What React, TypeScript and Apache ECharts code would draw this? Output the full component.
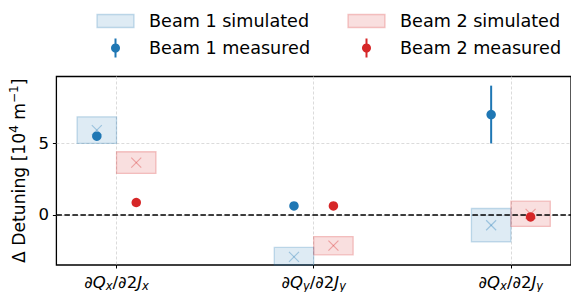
import React, { useEffect, useRef } from "react";
import * as echarts from "echarts";

// ---- data ----
const categories = ["dQx/d2Jx", "dQy/d2Jy", "dQx/d2Jy"];
const categoryLabels = [
  "{d|∂}{i|Q}{sub|x}{d|/∂2}{i|J}{sub|x}",
  "{d|∂}{i|Q}{sub|y}{d|/∂2}{i|J}{sub|y}",
  "{d|∂}{i|Q}{sub|x}{d|/∂2}{i|J}{sub|y}",
];
const beam1Simulated = [5.93, -2.93, -0.72];
const beam1SimulatedErr = [0.93, 0.66, 1.17];
const beam2Simulated = [3.66, -2.15, 0.08];
const beam2SimulatedErr = [0.76, 0.64, 0.88];
const beam1Measured = [5.51, 0.63, 7.02];
const beam1MeasuredErr = [0.15, 0.15, 2.02];
const beam2Measured = [0.87, 0.63, -0.14];
const beam2MeasuredErr = [0.15, 0.15, 0.15];
const legendNames = ["Beam 1 simulated", "Beam 2 simulated", "Beam 1 measured", "Beam 2 measured"];
const xTicks = [0, 1, 2];
const yTicks = [0, 5];

const BLUE = "#1f77b4";
const RED = "#d62728";
const BLUE_FILL = "rgba(31,119,180,0.15)";
const BLUE_EDGE = "rgba(31,119,180,0.25)";
const BLUE_X = "rgba(31,119,180,0.35)";
const RED_FILL = "rgba(214,39,40,0.15)";
const RED_EDGE = "rgba(214,39,40,0.25)";
const RED_X = "rgba(214,39,40,0.35)";
const FONT = "DejaVu Sans";
const FS = 16.5;
const FS_LEGEND = 17.6;
const FS_NAME = 17.2;

function boxRenderer(side: number, fill: string, stroke: string, cross: string) {
  return (params: any, api: any) => {
    const x = api.value(0);
    const v = api.value(1);
    const e = api.value(2);
    const x0 = side < 0 ? x - 0.2 : x;
    const x1 = x0 + 0.2;
    const tl = api.coord([x0, v + e]);
    const br = api.coord([x1, v - e]);
    const cs = params.coordSys;
    const rect = echarts.graphic.clipRectByRect(
      { x: tl[0], y: tl[1], width: br[0] - tl[0], height: br[1] - tl[1] },
      { x: cs.x, y: cs.y, width: cs.width, height: cs.height }
    );
    const c = api.coord([x0 + 0.1, v]);
    const h = 5;
    return {
      type: "group",
      children: [
        rect && {
          type: "rect",
          shape: rect,
          style: { fill, stroke, lineWidth: 1.3 },
        },
        {
          type: "line",
          shape: { x1: c[0] - h, y1: c[1] - h, x2: c[0] + h, y2: c[1] + h },
          style: { stroke: cross, lineWidth: 1.1 },
        },
        {
          type: "line",
          shape: { x1: c[0] - h, y1: c[1] + h, x2: c[0] + h, y2: c[1] - h },
          style: { stroke: cross, lineWidth: 1.1 },
        },
      ].filter(Boolean),
    };
  };
}

function errRenderer(offset: number, color: string) {
  return (params: any, api: any) => {
    const x = api.value(0) + offset;
    const v = api.value(1);
    const e = api.value(2);
    const t = api.coord([x, v + e]);
    const b = api.coord([x, v - e]);
    return {
      type: "line",
      shape: { x1: t[0], y1: t[1], x2: b[0], y2: b[1] },
      style: { stroke: color, lineWidth: 2 },
    };
  };
}

function legendText(x: number, y: number, label: string) {
  return {
    type: "text",
    x,
    y,
    style: { text: label, fontFamily: FONT, fontSize: FS_LEGEND, fill: "#000", verticalAlign: "middle", align: "left" },
  };
}

function legendPatch(x: number, y: number, fill: string, stroke: string, label: string) {
  return {
    type: "group",
    children: [
      { type: "rect", shape: { x, y: y - 6.5, width: 37, height: 13 }, style: { fill, stroke, lineWidth: 1.3 } },
      legendText(x + 52, y, label),
    ],
  };
}

function legendMarker(x: number, y: number, color: string, label: string) {
  const cx = x + 18.5;
  return {
    type: "group",
    children: [
      { type: "line", shape: { x1: cx, y1: y - 9.5, x2: cx, y2: y + 9.5 }, style: { stroke: color, lineWidth: 2 } },
      { type: "circle", shape: { cx, cy: y, r: 4.5 }, style: { fill: color } },
      legendText(x + 52, y, label),
    ],
  };
}

export default function App() {
  const ref = useRef<HTMLDivElement>(null);
  useEffect(() => {
    if (!ref.current) return;
    const chart = echarts.init(ref.current, null, { renderer: "svg" });
    const option: any = {
      animation: false,
      grid: {
        left: 53.5,
        top: 76.5,
        width: 521,
        height: 189.5,
        show: true,
        borderColor: "#000",
        borderWidth: 1.3,
        backgroundColor: "transparent",
      },
      graphic: [
        legendPatch(97, 21, BLUE_FILL, BLUE_EDGE, legendNames[0]),
        legendPatch(348, 21, RED_FILL, RED_EDGE, legendNames[1]),
        legendMarker(97, 48, BLUE, legendNames[2]),
        legendMarker(348, 48, RED, legendNames[3]),
      ],
      xAxis: {
        type: "value",
        min: -0.305,
        max: 2.305,
        axisLine: { show: false, onZero: false },
        axisTick: { show: true, customValues: xTicks, length: 3.5, lineStyle: { color: "#000", width: 1 } },
        axisLabel: {
          customValues: xTicks,
          margin: 7,
          formatter: (v: number) => categoryLabels[Math.round(v)] || "",
          rich: {
            d: { fontFamily: FONT, fontSize: FS, color: "#000", lineHeight: 20 },
            i: { fontFamily: FONT, fontSize: FS, fontStyle: "italic", color: "#000", lineHeight: 20 },
            sub: { fontFamily: FONT, fontSize: 11.5, fontStyle: "italic", color: "#000", lineHeight: 12, verticalAlign: "bottom" },
          },
        },
        splitLine: { show: true, lineStyle: { color: "#d2d2d2", width: 0.8, type: [3, 2] } },
      },
      yAxis: {
        type: "value",
        min: -3.5,
        max: 9.68,
        name: "{a|Δ Detuning [10}{s|4}{a| m}{s|−1}{a|]}",
        nameLocation: "middle",
        nameRotate: 90,
        nameGap: 23,
        nameTextStyle: {
          rich: {
            a: { fontFamily: FONT, fontSize: FS_NAME, color: "#000", lineHeight: 22 },
            s: { fontFamily: FONT, fontSize: 12, color: "#000", lineHeight: 12, verticalAlign: "top" },
          },
        },
        axisLine: { show: false, onZero: false },
        axisTick: { show: true, customValues: yTicks, length: 3.5, lineStyle: { color: "#000", width: 1 } },
        axisLabel: { customValues: yTicks, margin: 7.5, fontFamily: FONT, fontSize: FS, color: "#000" },
        splitLine: { show: true, lineStyle: { color: "#d2d2d2", width: 0.8, type: [3, 2] } },
      },
      series: [
        {
          type: "custom",
          name: legendNames[0],
          z: 2,
          renderItem: boxRenderer(-1, BLUE_FILL, BLUE_EDGE, BLUE_X),
          data: beam1Simulated.map((v, i) => [i, v, beam1SimulatedErr[i]]),
        },
        {
          type: "custom",
          name: legendNames[1],
          z: 2,
          renderItem: boxRenderer(1, RED_FILL, RED_EDGE, RED_X),
          data: beam2Simulated.map((v, i) => [i, v, beam2SimulatedErr[i]]),
        },
        {
          type: "line",
          z: 3,
          data: [],
          markLine: {
            silent: true,
            symbol: "none",
            label: { show: false },
            lineStyle: { color: "#000", width: 1.5, type: [5.5, 2.5] },
            data: [{ yAxis: 0 }],
          },
        },
        {
          type: "custom",
          z: 4,
          renderItem: errRenderer(-0.1, BLUE),
          data: beam1Measured.map((v, i) => [i, v, beam1MeasuredErr[i]]),
        },
        {
          type: "custom",
          z: 4,
          renderItem: errRenderer(0.1, RED),
          data: beam2Measured.map((v, i) => [i, v, beam2MeasuredErr[i]]),
        },
        {
          type: "scatter",
          name: legendNames[2],
          z: 5,
          symbolSize: 9.5,
          itemStyle: { color: BLUE, opacity: 1 },
          data: beam1Measured.map((v, i) => [i - 0.1, v]),
        },
        {
          type: "scatter",
          name: legendNames[3],
          z: 5,
          symbolSize: 9.5,
          itemStyle: { color: RED, opacity: 1 },
          data: beam2Measured.map((v, i) => [i + 0.1, v]),
        },
      ],
    };
    chart.setOption(option);
    return () => chart.dispose();
  }, []);
  return <div ref={ref} style={{ width: 571, height: 292, position: "absolute", left: 0, top: 0 }} />;
}
